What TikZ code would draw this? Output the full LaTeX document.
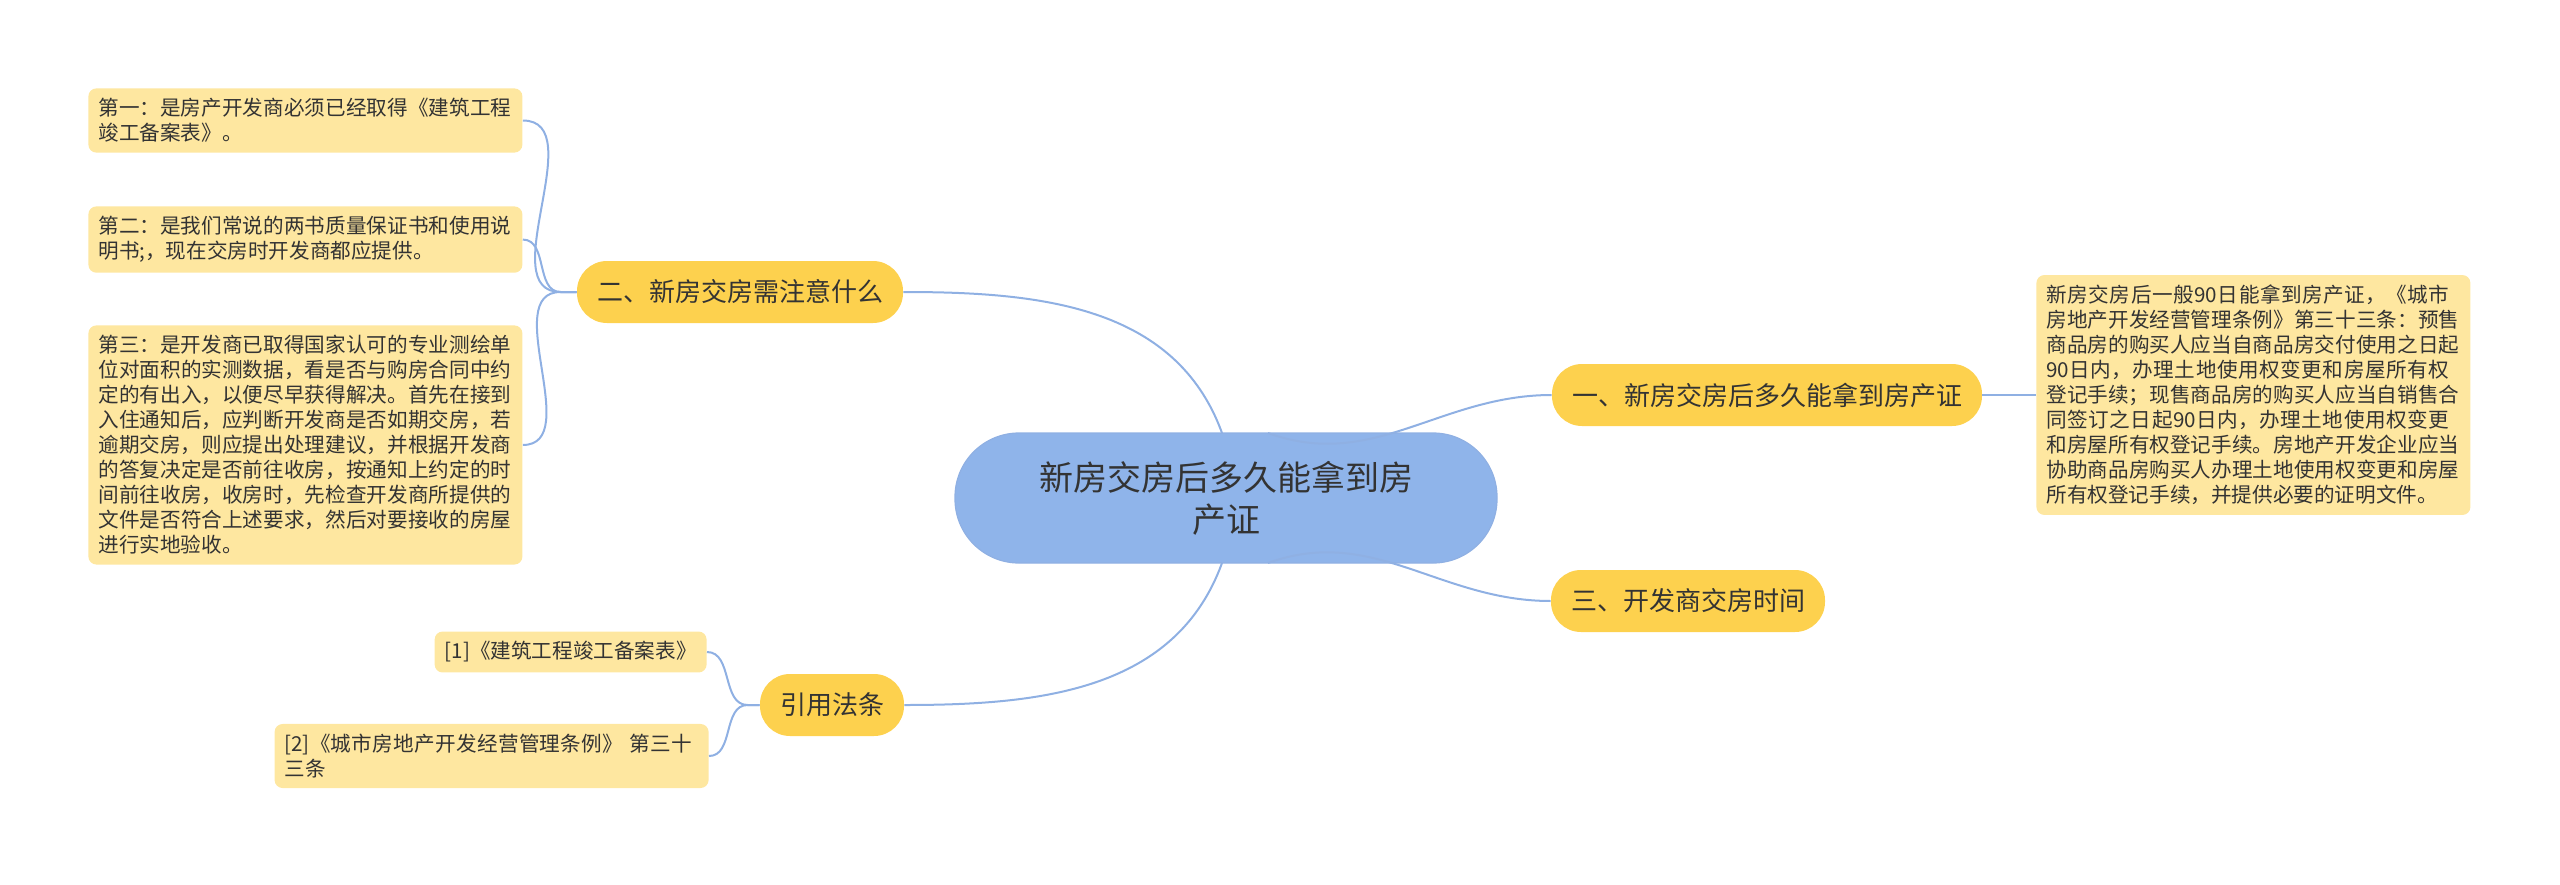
\documentclass[tikz,border=0pt]{standalone}
\usepackage{fontspec}
\setmainfont{Noto Sans CJK SC}
\XeTeXlinebreaklocale "zh"
\XeTeXlinebreakskip=0pt plus 1pt
\usetikzlibrary{positioning}
\definecolor{linkblue}{HTML}{8FB0E3}
\definecolor{rootfill}{HTML}{8FB4EA}
\definecolor{branchfill}{HTML}{FDD14E}
\definecolor{leaffill}{HTML}{FEE7A0}
\definecolor{inkgray}{HTML}{333333}
\tikzset{
    root/.style={draw=linkblue, line width=0.6pt, fill=rootfill, rounded corners=32pt, align=center, text=inkgray,
        font=\fontsize{17}{21}\selectfont, minimum width=271pt, minimum height=65pt}, % 中心主题
    branch/.style={fill=branchfill, rounded corners=15pt, text=inkgray, font=\fontsize{13}{16}\selectfont,
        minimum height=31pt, inner xsep=10pt}, % 二级主题
    leaf/.style={fill=leaffill, rounded corners=4pt, text=inkgray, align=left, inner sep=5pt,
        font=\fontsize{10.3}{12.5}\selectfont}, % 说明文字
    link/.style={draw=linkblue, line width=1pt}
}
\begin{document}
\begin{tikzpicture}[x=0.5pt, y=-0.5pt]
    \useasboundingbox (0,0) rectangle (2560,884);

    \node[root] (root) at (1226,498) {新房交房后多久能拿到房\\产证};

    \node[branch] (howlong) at (1767,395) {一、新房交房后多久能拿到房产证};
    \node[branch] (notice) at (740,292) {二、新房交房需注意什么};
    \node[branch] (devtime) at (1688,601) {三、开发商交房时间};
    \node[branch] (cite) at (832,705) {引用法条};

    \node[leaf, text width=207pt, anchor=west] (answer) at (2036,395) {新房交房后一般90日能拿到房产证，《城市房地产开发经营管理条例》第三十三条：预售商品房的购买人应当自商品房交付使用之日起90日内，办理土地使用权变更和房屋所有权登记手续；现售商品房的购买人应当自销售合同签订之日起90日内，办理土地使用权变更和房屋所有权登记手续。房地产开发企业应当协助商品房购买人办理土地使用权变更和房屋所有权登记手续，并提供必要的证明文件。};

    \node[leaf, text width=207pt, anchor=north west] (first) at (88,88) {第一：是房产开发商必须已经取得《建筑工程竣工备案表》。};
    \node[leaf, text width=207pt, anchor=north west] (second) at (88,206) {第二：是我们常说的两书质量保证书和使用说明书;，现在交房时开发商都应提供。};
    \node[leaf, text width=207pt, anchor=north west] (third) at (88,325) {第三：是开发商已取得国家认可的专业测绘单位对面积的实测数据，看是否与购房合同中约定的有出入，以便尽早获得解决。首先在接到入住通知后，应判断开发商是否如期交房，若逾期交房，则应提出处理建议，并根据开发商的答复决定是否前往收房，按通知上约定的时间前往收房，收房时，先检查开发商所提供的文件是否符合上述要求，然后对要接收的房屋进行实地验收。};

    \node[leaf, anchor=east] (lawa) at (707,652) {[1]《建筑工程竣工备案表》};
    \node[leaf, text width=207pt, anchor=east] (lawb) at (709,756) {[2]《城市房地产开发经营管理条例》 第三十三条};

    \coordinate (rootne) at (1268,433);
    \coordinate (rootnw) at (1222,433);
    \coordinate (rootse) at (1268,563);
    \coordinate (rootsw) at (1222,563);

    \draw[link] (rootne) to[out=-20,in=180] (howlong.west);
    \draw[link] (rootse) to[out=20,in=180] (devtime.west);
    \draw[link] (rootnw) to[out=110,in=0] (notice.east);
    \draw[link] (rootsw) to[out=-110,in=0] (cite.east);
    \draw[link] (howlong.east) -- (answer.west);

    \foreach \leafname in {first, second, third}
        \draw[link] (notice.west) -- ++(-16,0) to[out=180,in=0] (\leafname.east);
    \foreach \leafname in {lawa, lawb}
        \draw[link] (cite.west) -- ++(-12,0) to[out=180,in=0] (\leafname.east);
\end{tikzpicture}
\end{document}
